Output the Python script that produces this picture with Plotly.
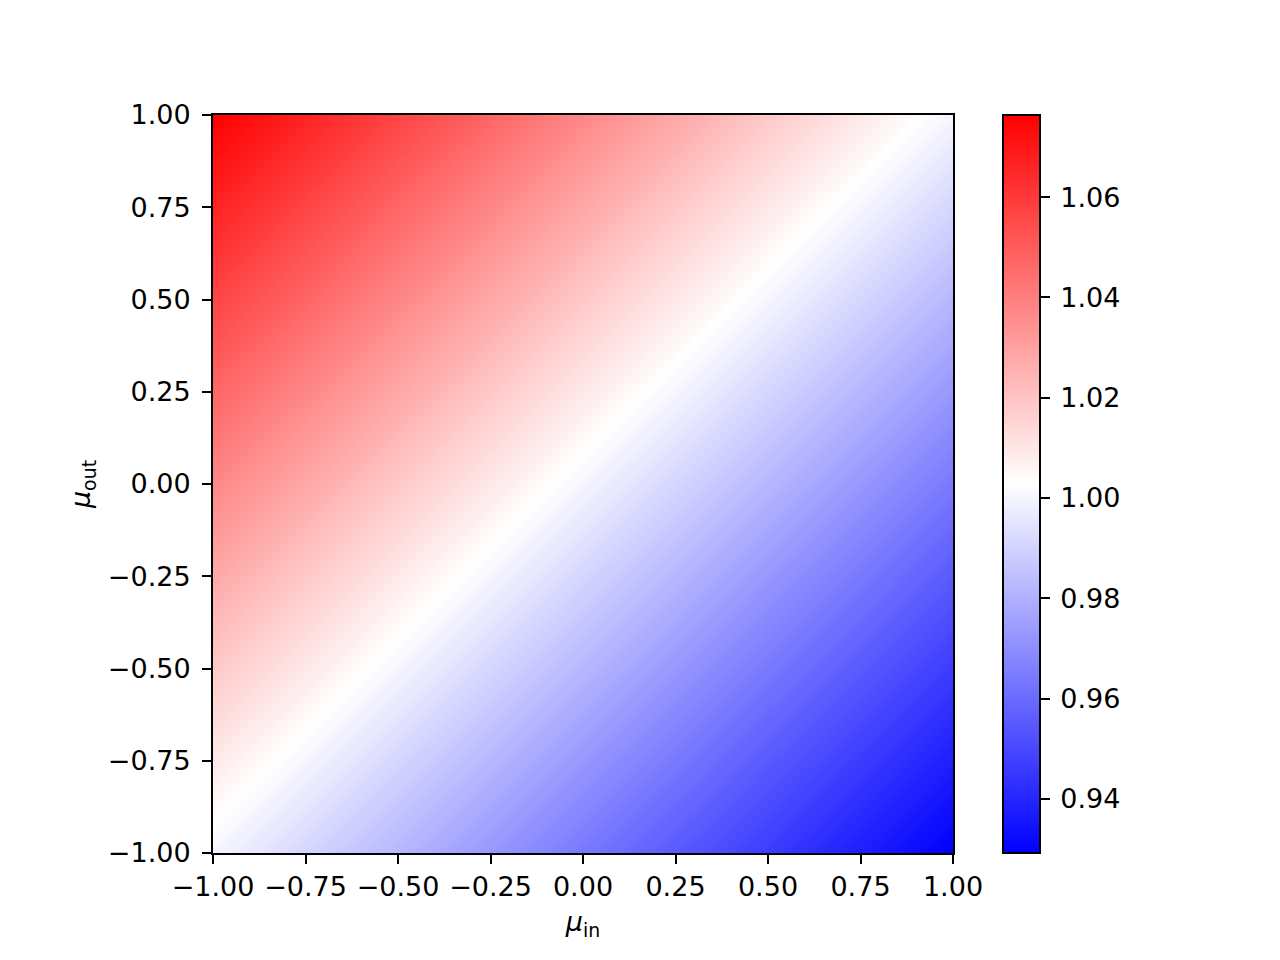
import plotly.graph_objects as go

mu_in = [-1.0, -0.75, -0.5, -0.25, 0.0, 0.25, 0.5, 0.75, 1.0]
mu_out = [-1.0, -0.75, -0.5, -0.25, 0.0, 0.25, 0.5, 0.75, 1.0]

# rows: mu_out (bottom to top), columns: mu_in (left to right)
z_row_m100 = [1.0000, 0.9908, 0.9818, 0.9728, 0.9639, 0.9550, 0.9463, 0.9376, 0.9290]
z_row_m075 = [1.0092, 1.0000, 0.9908, 0.9818, 0.9728, 0.9639, 0.9550, 0.9463, 0.9376]
z_row_m050 = [1.0186, 1.0092, 1.0000, 0.9908, 0.9818, 0.9728, 0.9639, 0.9550, 0.9463]
z_row_m025 = [1.0280, 1.0186, 1.0092, 1.0000, 0.9908, 0.9818, 0.9728, 0.9639, 0.9550]
z_row_000 = [1.0375, 1.0280, 1.0186, 1.0092, 1.0000, 0.9908, 0.9818, 0.9728, 0.9639]
z_row_p025 = [1.0471, 1.0375, 1.0280, 1.0186, 1.0092, 1.0000, 0.9908, 0.9818, 0.9728]
z_row_p050 = [1.0567, 1.0471, 1.0375, 1.0280, 1.0186, 1.0092, 1.0000, 0.9908, 0.9818]
z_row_p075 = [1.0665, 1.0567, 1.0471, 1.0375, 1.0280, 1.0186, 1.0092, 1.0000, 0.9908]
z_row_p100 = [1.0764, 1.0665, 1.0567, 1.0471, 1.0375, 1.0280, 1.0186, 1.0092, 1.0000]

z = [z_row_m100, z_row_m075, z_row_m050, z_row_m025, z_row_000,
     z_row_p025, z_row_p050, z_row_p075, z_row_p100]

axis_ticks = [-1.0, -0.75, -0.5, -0.25, 0.0, 0.25, 0.5, 0.75, 1.0]
cbar_ticks = [0.94, 0.96, 0.98, 1.00, 1.02, 1.04, 1.06]
z_min = 0.9292
z_max = 1.0764

FONT = "DejaVu Sans"
FS = 27

bwr = [[0.0, "rgb(0,0,255)"], [0.5, "rgb(255,255,255)"], [1.0, "rgb(255,0,0)"]]

fig = go.Figure(go.Heatmap(
    x=mu_in, y=mu_out, z=z,
    zsmooth="best",
    colorscale=bwr, zmin=z_min, zmax=z_max,
    colorbar=dict(
        x=(1003 - 213) / 740, xanchor="left", xpad=0,
        y=0, yanchor="bottom", ypad=0, len=1, lenmode="fraction",
        thickness=37, thicknessmode="pixels",
        outlinewidth=2, outlinecolor="black",
        tickvals=cbar_ticks, ticktext=["\u2009" + f"{v:.2f}" for v in cbar_ticks],
        ticks="outside", ticklen=9, tickwidth=2, tickcolor="black",
        tickfont=dict(family=FONT, size=FS, color="black"),
    ),
))

axis_common = dict(
    range=[-1, 1], tickvals=axis_ticks,
    ticktext=[f"{v:.2f}".replace("-", "\u2212") for v in axis_ticks],
    ticks="outside", ticklen=9, tickwidth=2, tickcolor="black",
    showline=True, linecolor="black", linewidth=2, mirror=True,
    showgrid=False, zeroline=False,
    tickfont=dict(family=FONT, size=FS, color="black"),
)

fig.update_layout(
    width=1280, height=960,
    margin=dict(l=205, r=335, t=107, b=115),
    paper_bgcolor="white", plot_bgcolor="white",
    font=dict(family=FONT, size=FS, color="black"),
    xaxis=dict(axis_common, title=dict(text="<i>μ</i><sub>in</sub>", standoff=11,
                                        font=dict(family=FONT, size=FS))),
    yaxis=dict(axis_common, ticklabelstandoff=6,
               title=dict(text="<i>μ</i><sub>out</sub>", standoff=9,
                          font=dict(family=FONT, size=FS))),
)

fig.write_html("out.html")
